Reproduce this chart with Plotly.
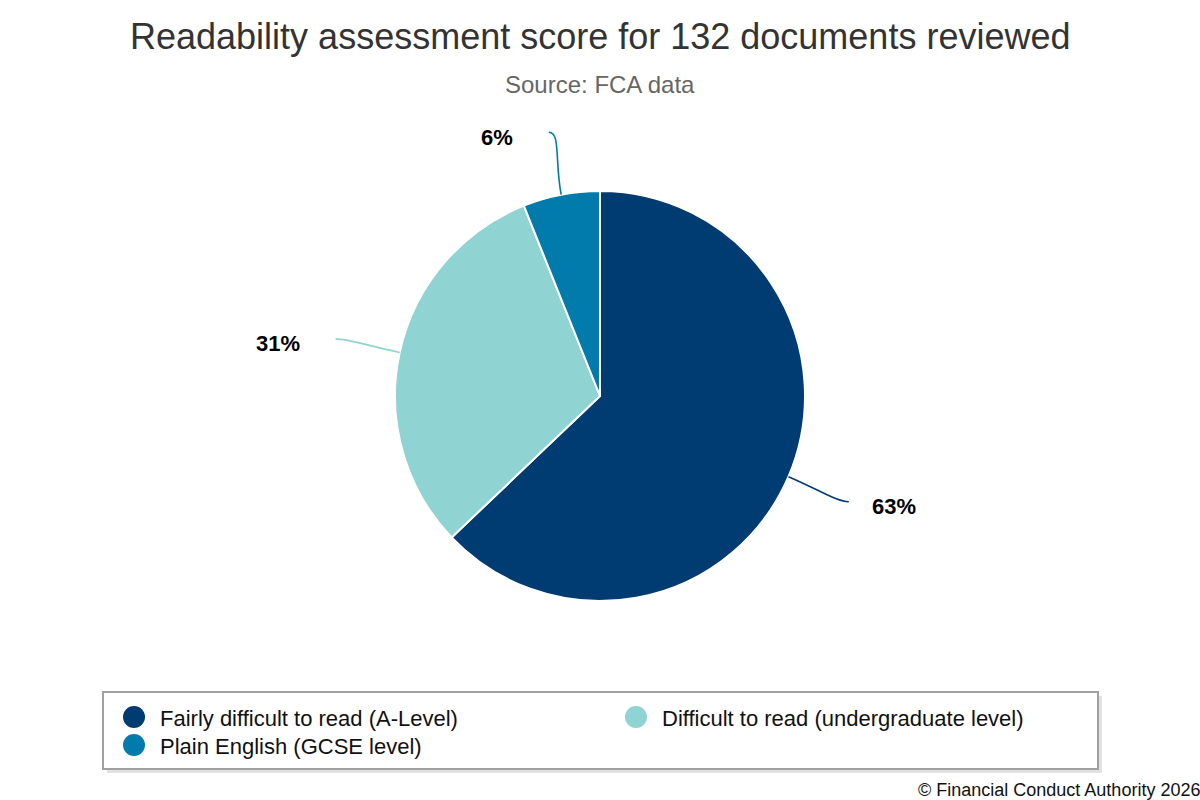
import math
import plotly.graph_objects as go

# data
categories = ["Fairly difficult to read (A-Level)",
              "Difficult to read (undergraduate level)",
              "Plain English (GCSE level)"]
counts = [83, 41, 8]
colors = ["#003B71", "#8FD3D2", "#007BAB"]

W, H = 1200, 800
cx, cy, r = 600, 396, 205

fig = go.Figure()

fig.add_trace(go.Pie(
    labels=categories, values=counts, sort=False, direction="clockwise",
    rotation=0, marker=dict(colors=colors, line=dict(color="white", width=2)),
    textinfo="none", textposition="none", hoverinfo="label+percent", showlegend=False,
    domain=dict(x=[(cx - r) / W, (cx + r) / W],
                y=[1 - (cy + r) / H, 1 - (cy - r) / H]),
))

shapes = []
annotations = []

# outside labels with curved connectors, positioned from the slice angles
total = sum(counts)
start = 0.0
for v, col in zip(counts, colors):
    frac = v / total
    mid = (start + frac / 2) * 2 * math.pi
    start += frac
    sx, sy = math.sin(mid), -math.cos(mid)
    p0 = (cx + r * sx, cy + r * sy)
    p1 = (cx + 1.17 * r * sx, cy + 1.17 * r * sy)
    p3 = (cx + 1.32 * r * sx, cy + 1.31 * r * sy)
    side = 1 if sx >= 0 else -1
    p2 = (p3[0] - side * 12, p3[1])
    shapes.append(dict(type="path", xref="x", yref="y",
                       path=f"M{p0[0]},{p0[1]} C{p1[0]},{p1[1]} {p2[0]},{p2[1]} {p3[0]},{p3[1]}",
                       line=dict(color=col, width=1.6)))
    gap = 21 if side > 0 else 34
    annotations.append(dict(x=p3[0] + side * gap, y=p3[1] + 5, xref="x", yref="y",
                            text=f"<b>{round(frac * 100)}%</b>", showarrow=False,
                            xanchor="left" if side > 0 else "right",
                            font=dict(size=22, color="black")))

# legend box (drawn by hand so the round markers match)
lx0, ly0, lx1, ly1 = 103, 692, 1098, 769
shapes.append(dict(type="rect", xref="x", yref="y", x0=lx0 + 4, y0=ly0 + 4, x1=lx1 + 4, y1=ly1 + 4,
                   fillcolor="#e2e2e2", line=dict(width=0)))
shapes.append(dict(type="rect", xref="x", yref="y", x0=lx0, y0=ly0, x1=lx1, y1=ly1,
                   fillcolor="white", line=dict(color="#a0a0a0", width=2)))
for i, (name, col) in enumerate(zip(categories, colors)):
    colx = lx0 + 31 + (i % 2) * 502
    rowy = ly0 + 25 + (i // 2) * 28
    shapes.append(dict(type="circle", xref="x", yref="y", x0=colx - 11, x1=colx + 11,
                       y0=rowy - 11, y1=rowy + 11, fillcolor=col, line=dict(width=0)))
    annotations.append(dict(x=colx + 24, y=rowy + 1, xref="x", yref="y", text=name,
                            showarrow=False, xanchor="left", yanchor="middle",
                            font=dict(size=22, color="#111111")))

annotations += [
    dict(x=600, y=36, xref="x", yref="y", text="Readability assessment score for 132 documents reviewed",
         showarrow=False, font=dict(size=36, color="#333333")),
    dict(x=600, y=84, xref="x", yref="y", text="Source: FCA data",
         showarrow=False, font=dict(size=24, color="#666666")),
    dict(x=1.002, y=-0.002, xref="paper", yref="paper", text="© Financial Conduct Authority 2026",
         showarrow=False, xanchor="right", yanchor="bottom", font=dict(size=18, color="#111111")),
]

fig.update_layout(
    width=W, height=H,
    margin=dict(l=0, r=0, t=0, b=0),
    paper_bgcolor="white", plot_bgcolor="white",
    font=dict(family="Liberation Sans, Arial, sans-serif"),
    xaxis=dict(range=[0, W], visible=False, fixedrange=True, domain=[0, 1]),
    yaxis=dict(range=[H, 0], visible=False, fixedrange=True, domain=[0, 1]),
    shapes=shapes, annotations=annotations,
    showlegend=False,
)

fig.write_html("out.html", config={"displayModeBar": False},
               post_script="document.body.style.margin='0';document.body.style.overflow='hidden';")
